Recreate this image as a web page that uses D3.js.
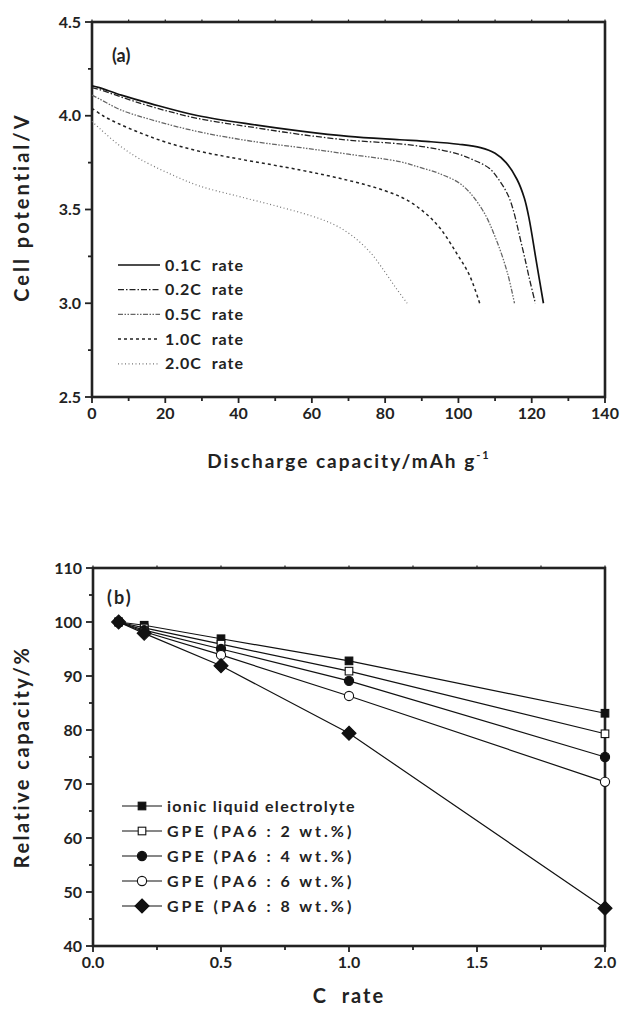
<!DOCTYPE html>
<html>
<head>
<meta charset="utf-8">
<script src="https://cdn.jsdelivr.net/npm/d3@7/dist/d3.min.js"></script>
<style>
  body { margin: 0; background: #fff; }
  svg { display: block; }
  text { font-family: Lato, "Open Sans", sans-serif; font-weight: 700; fill: #222; }
</style>
</head>
<body>
<svg id="chart" width="621" height="1018"></svg>
<script>
// ---- (a) discharge curves: [capacity mAh/g, potential V]
var rateNames = ['0.1C rate', '0.2C rate', '0.5C rate', '1.0C rate', '2.0C rate'];
var curve01 = [[0,4.16],[2,4.15],[8,4.11],[16,4.065],[29,4.00],[45,3.95],[57,3.918],[70,3.89],[84,3.872],[92,3.862],[100,3.848],[106,3.83],[110,3.80],[113,3.75],[116,3.66],[118,3.56],[119.3,3.45],[121.2,3.23],[123.2,3.0]];
var curve02 = [[0,4.15],[2,4.14],[8,4.10],[16,4.05],[29,3.985],[45,3.935],[57,3.90],[70,3.87],[84,3.85],[92,3.83],[100,3.795],[104,3.765],[108.4,3.72],[111,3.66],[113.9,3.56],[117.4,3.30],[119.5,3.12],[121,3.0]];
var curve05 = [[0,4.11],[2,4.09],[8,4.03],[16,3.98],[29,3.915],[45,3.86],[57,3.83],[70,3.795],[84,3.755],[89.4,3.725],[95,3.69],[101,3.63],[106.5,3.50],[110.3,3.34],[113.4,3.16],[115.3,3.0]];
var curve10 = [[0,4.04],[3,4.00],[7,3.96],[13,3.91],[20,3.86],[29.4,3.81],[40,3.77],[57,3.71],[70,3.655],[80,3.60],[86,3.55],[91,3.48],[95,3.40],[99.4,3.27],[103,3.15],[105.8,3.0]];
var curve20 = [[0,3.97],[2.2,3.93],[7.6,3.84],[13,3.77],[21.3,3.69],[29.4,3.625],[40,3.57],[50,3.52],[60,3.465],[66,3.42],[71,3.36],[76,3.27],[80,3.165],[83,3.08],[86,3.0]];
var curvesA = [curve01, curve02, curve05, curve10, curve20];

// ---- (b) rate capability
var cRates = [0.1, 0.2, 0.5, 1.0, 2.0];
var seriesNames = ['ionic liquid electrolyte', 'GPE (PA6 : 2 wt.%)', 'GPE (PA6 : 4 wt.%)', 'GPE (PA6 : 6 wt.%)', 'GPE (PA6 : 8 wt.%)'];
var ionicVals = [100, 99.4, 96.9, 92.8, 83.1];
var gpe2Vals = [100, 98.9, 95.9, 90.9, 79.3];
var gpe4Vals = [100, 98.5, 95.0, 89.1, 75.0];
var gpe6Vals = [100, 98.2, 93.9, 86.3, 70.4];
var gpe8Vals = [100, 97.9, 91.9, 79.4, 47.0];
var seriesB = [ionicVals, gpe2Vals, gpe4Vals, gpe6Vals, gpe8Vals];

var xTicksA = [0, 20, 40, 60, 80, 100, 120, 140];
var yTicksA = [2.5, 3.0, 3.5, 4.0, 4.5];
var xTicksB = [0.0, 0.5, 1.0, 1.5, 2.0];
var yTicksB = [40, 50, 60, 70, 80, 90, 100, 110];

var svg = d3.select('#chart');
var ink = '#222';

// style of each discharge curve
var lineStyles = [
  { dash: null, width: 1.7, color: '#111' },
  { dash: '6,2,1.5,2', width: 1.3, color: '#222' },
  { dash: '5,1.5,1.5,1.5,1.5,1.5', width: 1.3, color: '#666' },
  { dash: '3,3', width: 1.5, color: '#222' },
  { dash: '1,2.5', width: 1.2, color: '#777' }
];

function frame(g, x, y, opts) {
  var x0 = x.range()[0], x1 = x.range()[1];
  var y0 = y.range()[1], y1 = y.range()[0];

  // minor + major ticks on bottom axis
  g.selectAll('.xminor').data(opts.xMinor).enter().append('line')
    .attr('x1', function (d) { return x(d); }).attr('x2', function (d) { return x(d); })
    .attr('y1', y1).attr('y2', function (d) { return y1 + (opts.xMajor.indexOf(d) >= 0 ? 6 : 4); })
    .attr('stroke', ink).attr('stroke-width', 1.8);
  // small ticks on top border
  g.selectAll('.xtop').data(opts.xMinor).enter().append('line')
    .attr('x1', function (d) { return x(d); }).attr('x2', function (d) { return x(d); })
    .attr('y1', y0).attr('y2', y0 - 2.5)
    .attr('stroke', ink).attr('stroke-width', 1.2);
  g.selectAll('.yminor').data(opts.yMinor).enter().append('line')
    .attr('y1', function (d) { return y(d); }).attr('y2', function (d) { return y(d); })
    .attr('x1', x0).attr('x2', function (d) { return x0 - (opts.yMajor.indexOf(d) >= 0 ? 7 : 4); })
    .attr('stroke', ink).attr('stroke-width', 1.8);

  g.append('rect')
    .attr('x', x0).attr('y', y0)
    .attr('width', x1 - x0).attr('height', y1 - y0)
    .attr('fill', 'none').attr('stroke', ink).attr('stroke-width', 2.6);

  g.selectAll('.xlab').data(opts.xMajor).enter().append('text')
    .attr('x', function (d) { return x(d); }).attr('y', y1 + 22)
    .attr('text-anchor', 'middle').style('font-size', '16px')
    .text(opts.xFormat);
  g.selectAll('.ylab').data(opts.yMajor).enter().append('text')
    .attr('x', x0 - 11).attr('y', function (d) { return y(d) + 5.5; })
    .attr('text-anchor', 'end').style('font-size', '16px')
    .text(opts.yFormat);
}

// ================= (a) =================
var xA = d3.scaleLinear().domain([0, 140]).range([92, 605]);
var yA = d3.scaleLinear().domain([2.5, 4.5]).range([397, 22]);
var gA = svg.append('g');

frame(gA, xA, yA, {
  xMajor: xTicksA, xMinor: d3.range(0, 141, 10),
  yMajor: yTicksA, yMinor: d3.range(2.5, 4.51, 0.25).map(function (d) { return +d.toFixed(2); }),
  xFormat: function (d) { return d; },
  yFormat: d3.format('.1f')
});

var lineA = d3.line()
  .x(function (d) { return xA(d[0]); })
  .y(function (d) { return yA(d[1]); })
  .curve(d3.curveCatmullRom.alpha(0.5));

gA.selectAll('.curve').data(curvesA).enter().append('path')
  .attr('d', lineA)
  .attr('fill', 'none')
  .attr('stroke', function (d, i) { return lineStyles[i].color; })
  .attr('stroke-width', function (d, i) { return lineStyles[i].width; })
  .attr('stroke-dasharray', function (d, i) { return lineStyles[i].dash; });

gA.append('text').attr('x', 112).attr('y', 62).style('font-size', '18px').text('(a)');

var legA = gA.selectAll('.legA').data(rateNames).enter().append('g')
  .attr('transform', function (d, i) { return 'translate(118,' + (265 + i * 24.7) + ')'; });
legA.append('line').attr('x1', 0).attr('x2', 42).attr('y1', 0).attr('y2', 0)
  .attr('stroke', function (d, i) { return lineStyles[i].color; })
  .attr('stroke-width', function (d, i) { return lineStyles[i].width; })
  .attr('stroke-dasharray', function (d, i) { return lineStyles[i].dash; });
legA.append('text').attr('x', 47).attr('y', 5.5).style('font-size', '16px')
  .style('letter-spacing', '1px').attr('xml:space', 'preserve')
  .text(function (d) { return d.replace(' ', '  '); });

svg.append('text')
  .attr('transform', 'translate(29,207) rotate(-90)')
  .attr('text-anchor', 'middle').style('font-size', '20px').style('letter-spacing', '3px')
  .text('Cell potential/V');

var xtA = svg.append('text').attr('x', 349).attr('y', 468)
  .attr('text-anchor', 'middle').style('font-size', '19px').style('letter-spacing', '2px');
xtA.append('tspan').text('Discharge capacity/mAh g');
xtA.append('tspan').attr('dy', -9).style('font-size', '11px').text('-1');

// ================= (b) =================
var xB = d3.scaleLinear().domain([0, 2]).range([93, 605]);
var yB = d3.scaleLinear().domain([40, 110]).range([946, 568]);
var gB = svg.append('g');

frame(gB, xB, yB, {
  xMajor: xTicksB, xMinor: d3.range(0, 2.01, 0.25).map(function (d) { return +d.toFixed(2); }),
  yMajor: yTicksB, yMinor: d3.range(40, 111, 5),
  xFormat: d3.format('.1f'),
  yFormat: function (d) { return d; }
});

var lineB = d3.line()
  .x(function (d, i) { return xB(cRates[i]); })
  .y(function (d) { return yB(d); });

gB.selectAll('.sline').data(seriesB).enter().append('path')
  .attr('d', lineB).attr('fill', 'none')
  .attr('stroke', '#111').attr('stroke-width', 1.2);

var markerTypes = ['square', 'square', 'circle', 'circle', 'diamond'];
var markerFill = ['#111', '#fff', '#111', '#fff', '#111'];

function drawMarker(sel, i) {
  var t = markerTypes[i];
  var m;
  if (t === 'square') {
    m = sel.append('rect').attr('x', -3.8).attr('y', -3.8).attr('width', 7.6).attr('height', 7.6);
  } else if (t === 'circle') {
    m = sel.append('circle').attr('r', 4.6);
  } else {
    m = sel.append('path').attr('d', 'M0,-7L7,0L0,7L-7,0Z');
  }
  m.attr('fill', markerFill[i]).attr('stroke', '#111').attr('stroke-width', 1.1);
}

seriesB.forEach(function (vals, i) {
  var pts = gB.selectAll('.pt' + i).data(vals).enter().append('g')
    .attr('transform', function (d, j) { return 'translate(' + xB(cRates[j]) + ',' + yB(d) + ')'; });
  pts.each(function () { drawMarker(d3.select(this), i); });
});

gB.append('text').attr('x', 107).attr('y', 604).style('font-size', '18px')
  .style('letter-spacing', '2px').text('(b)');

var legB = gB.selectAll('.legB').data(seriesNames).enter().append('g')
  .attr('transform', function (d, i) { return 'translate(122,' + (806 + i * 25) + ')'; });
legB.append('line').attr('x1', 0).attr('x2', 40).attr('y1', 0).attr('y2', 0)
  .attr('stroke', '#111').attr('stroke-width', 1.2);
legB.each(function (d, i) {
  var g = d3.select(this).append('g').attr('transform', 'translate(20,0)');
  drawMarker(g, i);
});
legB.append('text').attr('x', 45).attr('y', 5.5).style('font-size', '16px')
  .style('letter-spacing', function (d, i) { return i === 0 ? '1.3px' : '3px'; })
  .text(function (d) { return d; });

svg.append('text')
  .attr('transform', 'translate(29,757) rotate(-90)')
  .attr('text-anchor', 'middle').style('font-size', '20px').style('letter-spacing', '2.5px')
  .text('Relative capacity/%');

svg.append('text').attr('x', 349).attr('y', 1003)
  .attr('text-anchor', 'middle').style('font-size', '20px').style('letter-spacing', '2px')
  .attr('xml:space', 'preserve')
  .text('C  rate');
</script>
</body>
</html>
